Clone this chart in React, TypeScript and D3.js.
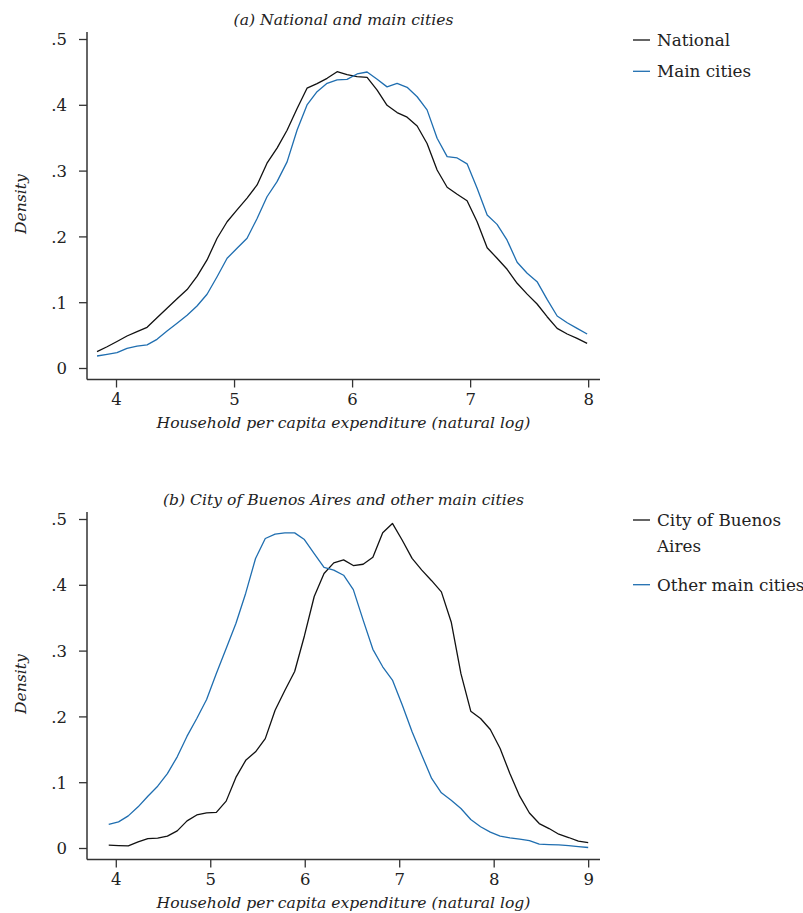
import React from "react";
import * as d3 from "d3";

// Panel (a)
const xA = [3.835,3.920,4.004,4.089,4.174,4.259,4.343,4.428,4.513,4.598,4.682,4.767,4.852,4.937,5.021,5.106,5.191,5.275,5.360,5.445,5.530,5.614,5.699,5.784,5.869,5.953,6.038,6.123,6.208,6.292,6.377,6.462,6.547,6.631,6.716,6.801,6.886,6.970,7.055,7.140,7.224,7.309,7.394,7.479,7.563,7.648,7.733,7.818,7.902,7.987];
const national = [.0256,.033,.041,.0494,.056,.0626,.077,.0915,.106,.120,.14,.165,.198,.223,.241,.259,.279,.312,.335,.362,.395,.426,.433,.441,.451,.4465,.4435,.4425,.423,.400,.389,.382,.3685,.342,.3017,.2754,.2647,.255,.223,.1836,.1675,.1508,.1295,.113,.098,.0787,.061,.0524,.0459,.0383];
const mainCities = [.019,.0215,.024,.0307,.034,.036,.0443,.057,.0687,.0808,.095,.1128,.1395,.1675,.1827,.198,.228,.261,.284,.314,.3625,.4005,.4207,.4334,.4385,.4395,.4476,.4506,.4395,.428,.4334,.4274,.413,.393,.35,.322,.320,.311,.274,.2333,.219,.195,.1614,.1447,.132,.105,.0798,.0696,.061,.0524];

// Panel (b)
const xB = [3.920,4.024,4.127,4.231,4.334,4.438,4.541,4.645,4.749,4.852,4.956,5.059,5.163,5.266,5.370,5.474,5.577,5.681,5.784,5.888,5.991,6.095,6.199,6.302,6.406,6.509,6.613,6.716,6.820,6.923,7.027,7.131,7.234,7.338,7.441,7.545,7.648,7.752,7.856,7.959,8.063,8.166,8.270,8.373,8.477,8.581,8.684,8.788,8.891,8.995];
const buenosAires = [.005,.0045,.004,.010,.015,.0157,.0187,.0268,.042,.051,.054,.055,.072,.108,.134,.147,.167,.21,.24,.269,.323,.383,.418,.434,.4386,.43,.432,.4425,.48,.494,.4685,.441,.423,.407,.39,.3443,.2657,.2087,.1976,.1808,.1519,.1139,.0795,.054,.0379,.0303,.0217,.0167,.0111,.009];
const otherCities = [.0365,.0405,.0496,.0633,.0795,.0947,.1139,.1393,.1707,.1976,.2264,.2659,.304,.342,.388,.4407,.4711,.4777,.4797,.4797,.4696,.4483,.4271,.423,.4153,.3935,.347,.3027,.2762,.256,.218,.1773,.1418,.1064,.0846,.0734,.0608,.0441,.033,.0248,.0187,.0162,.0142,.0121,.0065,.006,.0055,.0045,.003,.0015];

const yTicks = [0, 0.1, 0.2, 0.3, 0.4, 0.5];
const yTickLabels = ["0", ".1", ".2", ".3", ".4", ".5"];
const xTicksA = [4, 5, 6, 7, 8];
const xTicksB = [4, 5, 6, 7, 8, 9];
const titleA = "(a) National and main cities";
const titleB = "(b) City of Buenos Aires and other main cities";
const xTitle = "Household per capita expenditure (natural log)";
const yTitle = "Density";
const legendA = [["National"], ["Main cities"]];
const legendB = [["City of Buenos", "Aires"], ["Other main cities"]];

const BLACK = "#111111";
const BLUE = "#1f6eb0";
const AXIS = "#333333";
const TEXT = "#222222";
const FONT = "'DejaVu Serif', serif";

type PanelProps = {
  top: number;
  xDomain: [number, number];
  xTicks: number[];
  xs: number[];
  s1: number[];
  s2: number[];
  title: string;
  legend: string[][];
};

function Panel({ top, xDomain, xTicks, xs, s1, s2, title, legend }: PanelProps) {
  const left = 87, right = 600;
  const yTop = top + 39.5, yBottom = top + 368.5;
  const axisY = top + 379.5;
  const x = d3.scaleLinear().domain(xDomain).range([left, right]);
  const y = d3.scaleLinear().domain([0, 0.5]).range([yBottom, yTop]);
  const line = d3.line<number>().x((_, i) => x(xs[i])).y((d) => y(d));
  const legendColors = [BLACK, BLUE];
  let ly = top + 40;
  return (
    <g>
      <text x={(left + right) / 2} y={top + 25} textAnchor="middle" fontStyle="italic" fontSize={15.6} fill={TEXT} fontFamily={FONT}>{title}</text>
      <line x1={left} x2={left} y1={top + 32} y2={axisY} stroke={AXIS} strokeWidth={1.5} />
      <line x1={left} x2={right} y1={axisY} y2={axisY} stroke={AXIS} strokeWidth={1.5} />
      {yTicks.map((t, i) => (
        <g key={"y" + i}>
          <line x1={left - 8} x2={left} y1={y(t)} y2={y(t)} stroke={AXIS} strokeWidth={1.3} />
          <text x={67} y={y(t)} dy="0.36em" textAnchor="end" fontSize={16.5} fill={TEXT} fontFamily={FONT}>{yTickLabels[i]}</text>
        </g>
      ))}
      {xTicks.map((t, i) => (
        <g key={"x" + i}>
          <line x1={x(t)} x2={x(t)} y1={axisY} y2={axisY + 8} stroke={AXIS} strokeWidth={1.3} />
          <text x={x(t)} y={top + 405} textAnchor="middle" fontSize={16.5} fill={TEXT} fontFamily={FONT}>{t}</text>
        </g>
      ))}
      <text x={(left + right) / 2} y={top + 428} textAnchor="middle" fontStyle="italic" fontSize={15.6} fill={TEXT} fontFamily={FONT}>{xTitle}</text>
      <text transform={`translate(26,${(yTop + yBottom) / 2}) rotate(-90)`} textAnchor="middle" fontStyle="italic" fontSize={15.6} fill={TEXT} fontFamily={FONT}>{yTitle}</text>
      <path d={line(s1) || ""} fill="none" stroke={BLACK} strokeWidth={1.3} strokeLinejoin="round" />
      <path d={line(s2) || ""} fill="none" stroke={BLUE} strokeWidth={1.3} strokeLinejoin="round" />
      {legend.map((lines, i) => {
        const yy = ly;
        ly += 31.3 + (lines.length - 1) * 33.4;
        return (
          <g key={"l" + i}>
            <line x1={633} x2={650} y1={yy} y2={yy} stroke={legendColors[i]} strokeWidth={1.3} />
            {lines.map((s, j) => (
              <text key={j} x={657} y={yy + 6 + j * 25.5} fontSize={16.8} fill={TEXT} fontFamily={FONT}>{s}</text>
            ))}
          </g>
        );
      })}
    </g>
  );
}

export default function App() {
  return (
    <svg width={803} height={913} style={{ display: "block", position: "absolute", left: 0, top: 0, background: "#fff" }}>
      <rect width={803} height={913} fill="#fff" />
      <Panel top={0} xDomain={[3.75, 8.096]} xTicks={xTicksA} xs={xA} s1={national} s2={mainCities} title={titleA} legend={legendA} />
      <Panel top={480} xDomain={[3.69, 9.12]} xTicks={xTicksB} xs={xB} s1={buenosAires} s2={otherCities} title={titleB} legend={legendB} />
    </svg>
  );
}
